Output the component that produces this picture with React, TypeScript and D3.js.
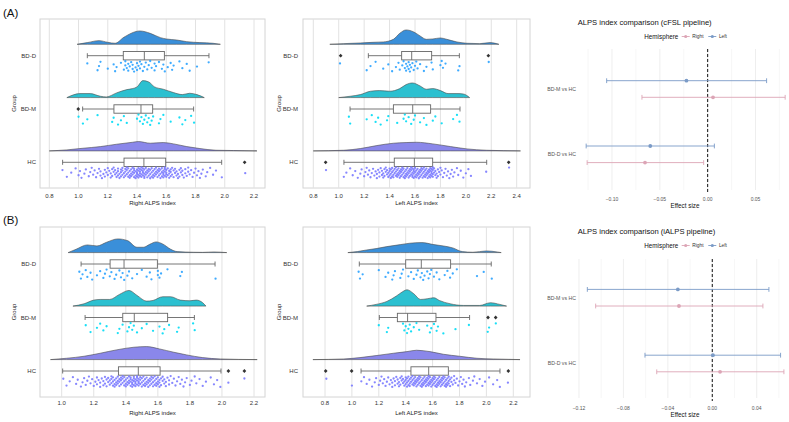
import React from 'react';
import * as d3 from 'd3';

// groups shown in every raincloud panel, top to bottom
const groups = ['BD-D', 'BD-M', 'HC'];
const densityFill = ['#3a8fd9', '#2cc0d0', '#8a87ea'];
const pointFill = ['#2aa2ff', '#00dcf5', '#7a7aff'];

// ---- cFSL, right hemisphere ----
const aRightTicks = [0.8, 1.0, 1.2, 1.4, 1.6, 1.8, 2.0, 2.2];
const aRightDensD = [[0.99, 0], [1.06, 0.28], [1.14, 0.61], [1.2, 0.33], [1.25, 0.17], [1.31, 1.17], [1.42, 2.22], [1.49, 1.83], [1.56, 1.11], [1.6, 0.89], [1.67, 0.72], [1.74, 0.44], [1.83, 0.28], [1.92, 0.17], [1.97, 0]];
const aRightDensM = [[0.92, 0], [1.01, 0.67], [1.08, 0.67], [1.15, 0.22], [1.19, 0.11], [1.26, 0.78], [1.33, 1.33], [1.37, 1.5], [1.4, 1.78], [1.44, 2.83], [1.48, 2.61], [1.52, 1.78], [1.58, 1.39], [1.65, 0.83], [1.71, 0.5], [1.76, 0.72], [1.81, 0.5], [1.86, 0]];
const aRightDensH = [[0.8, 0], [0.92, 0.17], [1.03, 0.44], [1.15, 0.72], [1.26, 1.11], [1.37, 1.44], [1.41, 1.56], [1.49, 1.28], [1.58, 1.39], [1.65, 1.17], [1.74, 0.72], [1.83, 0.39], [1.94, 0.11], [2.06, 0.06], [2.22, 0]];
// whisker low, Q1, median, Q3, whisker high
const aRightBox = [[1.06, 1.306, 1.45, 1.587, 1.892], [1.028, 1.242, 1.427, 1.507, 1.787], [0.891, 1.311, 1.447, 1.596, 1.979]];
const aRightOut = [[], [0.998], [2.136]];
const aRightPtsD = [1.06, 1.13, 1.14, 1.15, 1.2, 1.24, 1.25, 1.26, 1.29, 1.31, 1.32, 1.32, 1.33, 1.34, 1.34, 1.35, 1.36, 1.37, 1.37, 1.38, 1.39, 1.4, 1.4, 1.41, 1.42, 1.42, 1.43, 1.44, 1.45, 1.46, 1.47, 1.48, 1.49, 1.5, 1.52, 1.52, 1.53, 1.55, 1.57, 1.58, 1.59, 1.61, 1.63, 1.64, 1.65, 1.69, 1.71, 1.74, 1.76, 1.81, 1.89];
const aRightPtsM = [1.0, 1.03, 1.06, 1.13, 1.23, 1.24, 1.27, 1.29, 1.31, 1.33, 1.4, 1.41, 1.42, 1.43, 1.44, 1.45, 1.46, 1.47, 1.48, 1.49, 1.5, 1.51, 1.55, 1.56, 1.58, 1.63, 1.69, 1.71, 1.73, 1.77, 1.79];
const aRightPtsH = [
  0.89, 0.92, 0.95, 0.98, 1.0, 1.01, 1.02, 1.04, 1.05, 1.07, 1.08, 1.09, 1.1, 1.11, 1.12, 1.13, 1.14, 1.15, 1.15, 1.16, 1.17, 1.18, 1.18, 1.19, 1.2, 1.2, 1.21, 1.22, 1.22, 1.23, 1.23, 1.24, 1.24, 1.25, 1.25, 1.26, 1.26, 1.27, 1.27, 1.27, 1.28, 1.28, 1.29, 1.29, 1.29, 1.3, 1.3, 1.3, 1.31, 1.31,
  1.32, 1.32, 1.32, 1.33, 1.33, 1.33, 1.34, 1.34, 1.34, 1.35, 1.35, 1.35, 1.36, 1.36, 1.36, 1.37, 1.37, 1.37, 1.38, 1.38, 1.38, 1.38, 1.39, 1.39, 1.39, 1.4, 1.4, 1.4, 1.4, 1.41, 1.41, 1.41, 1.41, 1.42, 1.42, 1.42, 1.42, 1.43, 1.43, 1.43, 1.43, 1.44, 1.44, 1.44, 1.44, 1.45, 1.45, 1.45, 1.45,
  1.46, 1.46, 1.46, 1.47, 1.47, 1.47, 1.48, 1.48, 1.48, 1.49, 1.49, 1.49, 1.5, 1.5, 1.5, 1.51, 1.51, 1.51, 1.52, 1.52, 1.52, 1.53, 1.53, 1.53, 1.54, 1.54, 1.54, 1.55, 1.55, 1.55, 1.56, 1.56, 1.56, 1.57, 1.57, 1.57, 1.58, 1.58, 1.58, 1.58, 1.59, 1.59, 1.59, 1.59, 1.6, 1.6, 1.6, 1.6,
  1.61, 1.61, 1.62, 1.62, 1.62, 1.63, 1.63, 1.63, 1.64, 1.64, 1.65, 1.65, 1.66, 1.66, 1.67, 1.67, 1.68, 1.68, 1.69, 1.69, 1.7, 1.7, 1.71, 1.71, 1.72, 1.73, 1.73, 1.74, 1.75, 1.75, 1.76, 1.77, 1.78, 1.79, 1.8, 1.81, 1.82, 1.83, 1.84, 1.85, 1.87, 1.88, 1.9, 1.92, 1.94, 1.98, 2.14,
];

// ---- cFSL, left hemisphere ----
const aLeftTicks = [0.8, 1.0, 1.2, 1.4, 1.6, 1.8, 2.0, 2.2, 2.4];
const aLeftDensD = [[0.93, 0], [1.04, 0.11], [1.17, 0.22], [1.27, 0.33], [1.35, 0.39], [1.43, 0.83], [1.48, 1.83], [1.53, 2.39], [1.59, 2.06], [1.64, 1.39], [1.69, 0.83], [1.74, 0.89], [1.8, 1.06], [1.85, 0.83], [1.93, 0.39], [2.01, 0.17], [2.11, 0.11], [2.19, 0.28], [2.26, 0]];
const aLeftDensM = [[1.0, 0], [1.09, 0.22], [1.17, 0.5], [1.25, 1.06], [1.32, 1.17], [1.4, 1.06], [1.48, 1.5], [1.53, 2.17], [1.58, 2.44], [1.64, 1.94], [1.69, 1.39], [1.74, 1.5], [1.8, 1.17], [1.86, 0.67], [1.93, 0.67], [1.98, 0.6], [2.03, 0]];
const aLeftDensH = [[0.8, 0], [1.04, 0.11], [1.17, 0.39], [1.3, 0.89], [1.43, 1.28], [1.53, 1.39], [1.61, 1.44], [1.74, 1.17], [1.88, 0.72], [2.01, 0.33], [2.16, 0.11], [2.43, 0]];
const aLeftBox = [[1.233, 1.495, 1.574, 1.731, 1.949], [1.089, 1.43, 1.582, 1.723, 1.954], [1.041, 1.437, 1.595, 1.739, 2.164]];
const aLeftOut = [[1.015, 2.177], [], [0.897, 2.337]];
const aLeftPtsD = [1.01, 1.22, 1.25, 1.29, 1.35, 1.39, 1.42, 1.45, 1.47, 1.48, 1.5, 1.51, 1.52, 1.53, 1.53, 1.54, 1.55, 1.55, 1.56, 1.56, 1.57, 1.58, 1.59, 1.6, 1.61, 1.62, 1.64, 1.67, 1.69, 1.73, 1.74, 1.8, 1.81, 1.82, 1.84, 1.94, 1.95, 2.18];
const aLeftPtsM = [1.08, 1.09, 1.22, 1.26, 1.29, 1.31, 1.33, 1.38, 1.39, 1.46, 1.51, 1.52, 1.53, 1.55, 1.57, 1.59, 1.6, 1.64, 1.67, 1.69, 1.74, 1.76, 1.81, 1.9, 1.93, 1.95];
const aLeftPtsH = [
  0.9, 1.04, 1.06, 1.09, 1.11, 1.13, 1.15, 1.17, 1.18, 1.2, 1.21, 1.22, 1.23, 1.24, 1.25, 1.26, 1.27, 1.28, 1.29, 1.3, 1.3, 1.31, 1.32, 1.32, 1.33, 1.34, 1.34, 1.35, 1.35, 1.36, 1.36, 1.37, 1.37, 1.38, 1.38, 1.39, 1.39, 1.4, 1.4, 1.4, 1.41, 1.41, 1.41, 1.42, 1.42, 1.42, 1.43, 1.43, 1.43, 1.44,
  1.44, 1.45, 1.45, 1.45, 1.46, 1.46, 1.46, 1.47, 1.47, 1.47, 1.48, 1.48, 1.48, 1.49, 1.49, 1.49, 1.5, 1.5, 1.5, 1.51, 1.51, 1.51, 1.52, 1.52, 1.52, 1.53, 1.53, 1.53, 1.54, 1.54, 1.54, 1.55, 1.55, 1.55, 1.56, 1.56, 1.56, 1.57, 1.57, 1.57, 1.58, 1.58, 1.58, 1.58, 1.59, 1.59, 1.59, 1.59, 1.6, 1.6,
  1.6, 1.61, 1.61, 1.61, 1.62, 1.62, 1.62, 1.63, 1.63, 1.63, 1.64, 1.64, 1.64, 1.65, 1.65, 1.65, 1.66, 1.66, 1.66, 1.67, 1.67, 1.67, 1.68, 1.68, 1.68, 1.69, 1.69, 1.69, 1.7, 1.7, 1.7, 1.71, 1.71, 1.71, 1.72, 1.72, 1.72, 1.72, 1.73, 1.73, 1.73, 1.73, 1.74, 1.74, 1.74, 1.74,
  1.75, 1.75, 1.76, 1.76, 1.77, 1.77, 1.78, 1.78, 1.79, 1.8, 1.8, 1.81, 1.82, 1.83, 1.84, 1.85, 1.86, 1.87, 1.88, 1.89, 1.9, 1.91, 1.93, 1.94, 1.96, 1.98, 2.0, 2.02, 2.04, 2.16, 2.34,
];

// ---- iALPS, right hemisphere ----
const bRightTicks = [1.0, 1.2, 1.4, 1.6, 1.8, 2.0, 2.2];
const bRightDensD = [[1.04, 0], [1.09, 0.56], [1.16, 1.28], [1.22, 1.11], [1.28, 1.72], [1.35, 2.28], [1.41, 2.0], [1.47, 0.89], [1.51, 0.89], [1.55, 1.39], [1.59, 1.78], [1.63, 1.44], [1.68, 0.56], [1.72, 0.17], [1.82, 0.06], [1.88, 0.04], [1.95, 0.11], [2.03, 0]];
const bRightDensM = [[1.07, 0], [1.14, 0.39], [1.2, 1.0], [1.24, 1.11], [1.3, 1.11], [1.36, 1.94], [1.42, 2.61], [1.47, 1.78], [1.53, 0.83], [1.57, 0.94], [1.63, 1.56], [1.68, 1.56], [1.74, 1.0], [1.8, 0.89], [1.84, 1.0], [1.88, 0.56], [1.9, 0]];
const bRightDensH = [[0.93, 0], [1.03, 0.22], [1.14, 0.56], [1.24, 1.06], [1.34, 1.61], [1.45, 2.06], [1.53, 2.17], [1.61, 1.78], [1.7, 1.22], [1.78, 0.78], [1.88, 0.33], [1.99, 0.11], [2.22, 0]];
const bRightBox = [[1.121, 1.302, 1.389, 1.597, 1.957], [1.146, 1.381, 1.453, 1.661, 1.828], [1.006, 1.354, 1.478, 1.614, 1.994]];
const bRightOut = [[], [], [2.04, 2.14]];
const bRightPtsD = [1.11, 1.12, 1.13, 1.15, 1.16, 1.18, 1.19, 1.22, 1.24, 1.26, 1.27, 1.28, 1.3, 1.31, 1.33, 1.34, 1.36, 1.37, 1.38, 1.39, 1.41, 1.42, 1.44, 1.47, 1.5, 1.53, 1.55, 1.56, 1.6, 1.6, 1.61, 1.62, 1.66, 1.74, 1.75, 1.96];
const bRightPtsM = [1.15, 1.18, 1.22, 1.24, 1.26, 1.28, 1.35, 1.36, 1.38, 1.41, 1.42, 1.43, 1.44, 1.45, 1.47, 1.5, 1.53, 1.57, 1.61, 1.63, 1.64, 1.67, 1.72, 1.73, 1.82, 1.83];
const bRightPtsH = [
  1.01, 1.03, 1.05, 1.07, 1.09, 1.1, 1.12, 1.13, 1.14, 1.15, 1.16, 1.17, 1.18, 1.19, 1.2, 1.21, 1.22, 1.22, 1.23, 1.24, 1.24, 1.25, 1.26, 1.26, 1.27, 1.27, 1.28, 1.28, 1.29, 1.29, 1.3, 1.3, 1.31, 1.31, 1.31, 1.32, 1.32, 1.32, 1.33, 1.33, 1.33, 1.34, 1.34, 1.34, 1.35, 1.35, 1.35,
  1.36, 1.36, 1.36, 1.37, 1.37, 1.37, 1.38, 1.38, 1.38, 1.39, 1.39, 1.39, 1.4, 1.4, 1.4, 1.41, 1.41, 1.41, 1.42, 1.42, 1.42, 1.43, 1.43, 1.43, 1.43, 1.44, 1.44, 1.44, 1.44, 1.45, 1.45, 1.45, 1.45, 1.46, 1.46, 1.46, 1.46, 1.47, 1.47, 1.47, 1.47, 1.48, 1.48, 1.48,
  1.48, 1.49, 1.49, 1.49, 1.5, 1.5, 1.5, 1.51, 1.51, 1.51, 1.52, 1.52, 1.52, 1.53, 1.53, 1.53, 1.54, 1.54, 1.54, 1.55, 1.55, 1.55, 1.56, 1.56, 1.56, 1.57, 1.57, 1.57, 1.58, 1.58, 1.58, 1.59, 1.59, 1.59, 1.6, 1.6, 1.6, 1.61, 1.61, 1.61,
  1.62, 1.62, 1.63, 1.63, 1.64, 1.64, 1.65, 1.65, 1.66, 1.67, 1.67, 1.68, 1.69, 1.7, 1.71, 1.72, 1.73, 1.74, 1.75, 1.76, 1.77, 1.78, 1.8, 1.81, 1.83, 1.84, 1.86, 1.88, 1.9, 1.93, 1.95, 1.97, 1.99, 2.04, 2.14,
];

// ---- iALPS, left hemisphere ----
const bLeftTicks = [0.8, 1.0, 1.2, 1.4, 1.6, 1.8, 2.0, 2.2];
const bLeftDensD = [[0.97, 0], [1.04, 0.17], [1.11, 0.44], [1.18, 0.67], [1.26, 1.0], [1.36, 1.33], [1.43, 1.56], [1.52, 1.67], [1.61, 1.33], [1.68, 1.11], [1.75, 0.78], [1.82, 0.17], [1.9, 0.06], [2.0, 0.28], [2.08, 0.11], [2.11, 0]];
const bLeftDensM = [[1.11, 0], [1.18, 0.28], [1.26, 0.78], [1.33, 1.67], [1.38, 2.44], [1.41, 2.72], [1.46, 2.06], [1.51, 1.11], [1.56, 1.22], [1.61, 1.39], [1.65, 0.94], [1.73, 0.39], [1.83, 0.11], [1.95, 0.11], [2.03, 0.56], [2.1, 0.28], [2.15, 0]];
const bLeftDensH = [[0.71, 0], [0.94, 0.11], [1.06, 0.33], [1.18, 0.67], [1.31, 1.06], [1.41, 1.33], [1.48, 1.56], [1.58, 1.33], [1.68, 0.89], [1.8, 0.56], [1.93, 0.22], [2.05, 0.11], [2.25, 0]];
const bLeftBox = [[1.055, 1.4, 1.516, 1.734, 2.036], [1.204, 1.338, 1.414, 1.625, 1.875], [1.068, 1.439, 1.571, 1.717, 2.101]];
const bLeftOut = [[], [2.012, 2.069], [0.805, 0.998, 2.163]];
const bLeftPtsD = [1.05, 1.06, 1.08, 1.2, 1.25, 1.27, 1.3, 1.31, 1.32, 1.36, 1.37, 1.38, 1.42, 1.44, 1.46, 1.48, 1.49, 1.51, 1.52, 1.53, 1.54, 1.56, 1.57, 1.58, 1.59, 1.61, 1.63, 1.65, 1.69, 1.71, 1.73, 1.75, 1.78, 1.93, 1.98, 2.04];
const bLeftPtsM = [1.2, 1.26, 1.27, 1.38, 1.39, 1.4, 1.41, 1.42, 1.43, 1.44, 1.46, 1.48, 1.5, 1.56, 1.58, 1.59, 1.61, 1.63, 1.64, 1.68, 1.77, 1.87, 2.01, 2.02, 2.07];
const bLeftPtsH = [
  0.81, 1.0, 1.07, 1.09, 1.11, 1.13, 1.15, 1.17, 1.18, 1.2, 1.21, 1.22, 1.23, 1.24, 1.25, 1.26, 1.27, 1.28, 1.29, 1.3, 1.3, 1.31, 1.32, 1.32, 1.33, 1.34, 1.34, 1.35, 1.35, 1.36, 1.36, 1.37, 1.37, 1.38, 1.38, 1.39, 1.39, 1.4, 1.4, 1.4, 1.41, 1.41, 1.41, 1.42, 1.42, 1.42, 1.43, 1.43, 1.43, 1.44,
  1.44, 1.45, 1.45, 1.45, 1.46, 1.46, 1.46, 1.47, 1.47, 1.47, 1.48, 1.48, 1.48, 1.49, 1.49, 1.49, 1.5, 1.5, 1.5, 1.51, 1.51, 1.51, 1.52, 1.52, 1.52, 1.53, 1.53, 1.53, 1.54, 1.54, 1.54, 1.55, 1.55, 1.55, 1.56, 1.56, 1.56, 1.57, 1.57, 1.57,
  1.57, 1.58, 1.58, 1.58, 1.59, 1.59, 1.59, 1.6, 1.6, 1.6, 1.61, 1.61, 1.61, 1.62, 1.62, 1.62, 1.63, 1.63, 1.63, 1.64, 1.64, 1.64, 1.65, 1.65, 1.65, 1.66, 1.66, 1.66, 1.67, 1.67, 1.67, 1.68, 1.68, 1.68, 1.69, 1.69, 1.69, 1.7, 1.7, 1.7, 1.71, 1.71, 1.71, 1.72, 1.72,
  1.72, 1.73, 1.73, 1.74, 1.74, 1.75, 1.76, 1.76, 1.77, 1.78, 1.79, 1.8, 1.81, 1.82, 1.83, 1.84, 1.85, 1.87, 1.88, 1.9, 1.91, 1.93, 1.95, 1.97, 1.99, 2.02, 2.05, 2.08, 2.1, 2.16,
];

// ---- effect sizes (rows: BD-M vs HC, BD-D vs HC) ----
const comparisons = ['BD-M vs HC', 'BD-D vs HC'];
const hemispheres = ['Right', 'Left'];
const hemiColor = ['#dca5b6', '#7b9bc7'];

const cfslRightEst = [0.0056, -0.0655];
const cfslRightLo = [-0.0687, -0.126];
const cfslRightHi = [0.081, -0.0042];
const cfslLeftEst = [-0.0222, -0.06];
const cfslLeftLo = [-0.1056, -0.127];
const cfslLeftHi = [0.0616, 0.007];
const cfslMajor = [-0.1, -0.05, 0, 0.05];
const cfslMinor = [-0.125, -0.075, -0.025, 0.025, 0.075];

const ialpsRightEst = [-0.03, 0.007];
const ialpsRightLo = [-0.105, -0.05];
const ialpsRightHi = [0.0456, 0.0645];
const ialpsLeftEst = [-0.031, 0.0006];
const ialpsLeftLo = [-0.1125, -0.0606];
const ialpsLeftHi = [0.051, 0.0615];
const ialpsMajor = [-0.12, -0.08, -0.04, 0, 0.04];
const ialpsMinor = [-0.1, -0.06, -0.02, 0.02, 0.06];

const SANS = '"Liberation Sans", Arial, sans-serif';
const fmt1 = d3.format('.1f');
const fmt2 = d3.format('.2f');

// low-discrepancy vertical jitter for the rain points
const jitter = (i: number) => (i * 0.6180339887 + 0.25) % 1;

function RainPanel({ frame, domain, span, ticks, centers, axisTitle, labelEnd, groupX, tickY, titleY, dens, boxes, outliers, points }: any) {
  const x = d3.scaleLinear().domain(domain).range(span);
  const y = d3.scalePoint<string>().domain(groups).range(centers);
  const h = d3.scaleLinear().domain([0, 3]).range([0, 18]);
  const diamond = d3.symbol().type(d3.symbolDiamond2).size(9)();

  return (
    <g>
      <rect x={frame.l} y={frame.t} width={frame.r - frame.l} height={frame.b - frame.t} fill="#fff" stroke="#d4d4d4" strokeWidth={1} />
      {ticks.map((t: number) => (
        <g key={t}>
          <line x1={x(t)} x2={x(t)} y1={frame.t} y2={frame.b} stroke="#e2e2e2" strokeWidth={1} />
          <text x={x(t)} y={tickY} fontSize={6} textAnchor="middle" fill="#333">{fmt1(t)}</text>
        </g>
      ))}
      {groups.map((g, gi) => {
        const c = y(g) as number;
        const base = c - 11.4;
        const area = d3.area<number[]>().x(d => x(d[0])).y0(base).y1(d => base - h(d[1])).curve(d3.curveMonotoneX);
        const [wl, q1, md, q3, wh] = boxes[gi];
        return (
          <g key={g}>
            <path d={area(dens[gi]) || ''} fill={densityFill[gi]} stroke="#4a4a4a" strokeWidth={0.6} />
            <line x1={x(wl)} x2={x(q1)} y1={c} y2={c} stroke="#666" strokeWidth={0.9} />
            <line x1={x(q3)} x2={x(wh)} y1={c} y2={c} stroke="#666" strokeWidth={0.9} />
            <line x1={x(wl)} x2={x(wl)} y1={c - 2.5} y2={c + 2.5} stroke="#666" strokeWidth={0.9} />
            <line x1={x(wh)} x2={x(wh)} y1={c - 2.5} y2={c + 2.5} stroke="#666" strokeWidth={0.9} />
            <rect x={x(q1)} y={c - 4.2} width={x(q3) - x(q1)} height={8.4} fill="#fff" stroke="#666" strokeWidth={0.9} />
            <line x1={x(md)} x2={x(md)} y1={c - 4.2} y2={c + 4.2} stroke="#666" strokeWidth={0.9} />
            {outliers[gi].map((v: number, i: number) => (
              <path key={i} d={diamond || ''} transform={`translate(${x(v)},${c})`} fill="#333" />
            ))}
            {points[gi].map((v: number, i: number) => (
              <circle key={i} cx={x(v)} cy={c + 5 + jitter(i) * 11} r={1.15} fill={pointFill[gi]} opacity={0.9} />
            ))}
            <text x={labelEnd} y={c + 2} fontSize={6} textAnchor="end" fill="#333">{g}</text>
          </g>
        );
      })}
      <text x={(frame.l + frame.r) / 2} y={titleY} fontSize={6} textAnchor="middle" fill="#222">{axisTitle}</text>
      <text transform={`translate(${groupX},${(frame.t + frame.b) / 2}) rotate(-90)`} fontSize={6} textAnchor="middle" fill="#222">Group</text>
    </g>
  );
}

function ForestPanel({ grid, domain, span, rows, major, minor, title, titleY, legendY, tickY, labelY, est, lo, hi }: any) {
  const x = d3.scaleLinear().domain(domain).range(span);
  const y = d3.scalePoint<string>().domain(comparisons).range(rows);
  const dodge = [8.3, -8.3];
  const gl = 576;
  return (
    <g fontFamily={SANS}>
      <text x={577.7} y={titleY} fontSize={7.6} fill="#111">{title}</text>
      <text x={644.3} y={legendY} fontSize={6.3} fill="#111">Hemisphere</text>
      {hemispheres.map((hm, k) => {
        const gx = k === 0 ? 685.7 : 712.3;
        return (
          <g key={hm}>
            <line x1={gx - 4} x2={gx + 4} y1={legendY - 2} y2={legendY - 2} stroke={hemiColor[k]} strokeWidth={0.9} />
            <circle cx={gx} cy={legendY - 2} r={1.6} fill={hemiColor[k]} />
            <text x={gx + 6.6} y={legendY - 0.3} fontSize={4.8} fill="#333">{hm}</text>
          </g>
        );
      })}
      {minor.map((t: number) => (
        <line key={'n' + t} x1={x(t)} x2={x(t)} y1={grid.t} y2={grid.b} stroke="#f1f1f1" strokeWidth={0.6} />
      ))}
      {major.map((t: number) => (
        <g key={'m' + t}>
          <line x1={x(t)} x2={x(t)} y1={grid.t} y2={grid.b} stroke="#e6e6e6" strokeWidth={0.7} />
          <text x={x(t)} y={tickY} fontSize={5} textAnchor="middle" fill="#555">{fmt2(t)}</text>
        </g>
      ))}
      <line x1={x(0)} x2={x(0)} y1={grid.t} y2={grid.b + 3} stroke="#111" strokeWidth={1} strokeDasharray="3,2" />
      {comparisons.map((cmp, r) => (
        <g key={cmp}>
          <text x={gl} y={(y(cmp) as number) + 1.8} fontSize={5.2} textAnchor="end" fill="#555">{cmp}</text>
          {hemispheres.map((hm, k) => {
            const yy = (y(cmp) as number) + dodge[k];
            return (
              <g key={hm} stroke={hemiColor[k]} strokeWidth={0.9}>
                <line x1={x(lo[k][r])} x2={x(hi[k][r])} y1={yy} y2={yy} />
                <line x1={x(lo[k][r])} x2={x(lo[k][r])} y1={yy - 2.4} y2={yy + 2.4} />
                <line x1={x(hi[k][r])} x2={x(hi[k][r])} y1={yy - 2.4} y2={yy + 2.4} />
                <circle cx={x(est[k][r])} cy={yy} r={1.9} fill={hemiColor[k]} stroke="none" />
              </g>
            );
          })}
        </g>
      ))}
      <text x={685} y={labelY} fontSize={6.3} textAnchor="middle" fill="#111">Effect size</text>
    </g>
  );
}

export default function App() {
  return (
    <svg width={789} height={422} style={{ position: 'absolute', left: 0, top: 0, background: '#fff' }} fontFamily={SANS}>
      <text x={3} y={17} fontSize={11.5} fill="#111">(A)</text>
      <text x={3} y={224} fontSize={11.5} fill="#111">(B)</text>

      <RainPanel
        frame={{ l: 40, r: 265, t: 19, b: 188 }}
        domain={[0.8, 2.2]} span={[49.3, 254]} ticks={aRightTicks} centers={[55.7, 162.3]}
        axisTitle="Right ALPS index" labelEnd={36} groupX={16} tickY={197.5} titleY={205}
        dens={[aRightDensD, aRightDensM, aRightDensH]} boxes={aRightBox} outliers={aRightOut}
        points={[aRightPtsD, aRightPtsM, aRightPtsH]}
      />
      <RainPanel
        frame={{ l: 303, r: 530, t: 19, b: 188 }}
        domain={[0.8, 2.4]} span={[313.3, 516.7]} ticks={aLeftTicks} centers={[55.7, 162.3]}
        axisTitle="Left ALPS index" labelEnd={298} groupX={281} tickY={197.5} titleY={205}
        dens={[aLeftDensD, aLeftDensM, aLeftDensH]} boxes={aLeftBox} outliers={aLeftOut}
        points={[aLeftPtsD, aLeftPtsM, aLeftPtsH]}
      />
      <RainPanel
        frame={{ l: 40, r: 265, t: 227, b: 397 }}
        domain={[1.0, 2.2]} span={[61.7, 254]} ticks={bRightTicks} centers={[264, 371]}
        axisTitle="Right ALPS index" labelEnd={36} groupX={16} tickY={405} titleY={414.5}
        dens={[bRightDensD, bRightDensM, bRightDensH]} boxes={bRightBox} outliers={bRightOut}
        points={[bRightPtsD, bRightPtsM, bRightPtsH]}
      />
      <RainPanel
        frame={{ l: 303, r: 530, t: 227, b: 397 }}
        domain={[0.8, 2.2]} span={[325, 513.3]} ticks={bLeftTicks} centers={[264, 371]}
        axisTitle="Left ALPS index" labelEnd={298} groupX={281} tickY={405} titleY={414.5}
        dens={[bLeftDensD, bLeftDensM, bLeftDensH]} boxes={bLeftBox} outliers={bLeftOut}
        points={[bLeftPtsD, bLeftPtsM, bLeftPtsH]}
      />

      <ForestPanel
        grid={{ t: 49, b: 190 }} domain={[-0.1, 0.05]} span={[612, 755.5]} rows={[89, 154.3]}
        major={cfslMajor} minor={cfslMinor}
        title="ALPS index comparison (cFSL pipeline)" titleY={25} legendY={38.5} tickY={200.5} labelY={208}
        est={[cfslRightEst, cfslLeftEst]} lo={[cfslRightLo, cfslLeftLo]} hi={[cfslRightHi, cfslLeftHi]}
      />
      <ForestPanel
        grid={{ t: 259, b: 398 }} domain={[-0.12, 0.04]} span={[579, 756.7]} rows={[297.7, 363.5]}
        major={ialpsMajor} minor={ialpsMinor}
        title="ALPS index comparison (iALPS pipeline)" titleY={234} legendY={247.5} tickY={409.5} labelY={417}
        est={[ialpsRightEst, ialpsLeftEst]} lo={[ialpsRightLo, ialpsLeftLo]} hi={[ialpsRightHi, ialpsLeftHi]}
      />
    </svg>
  );
}
